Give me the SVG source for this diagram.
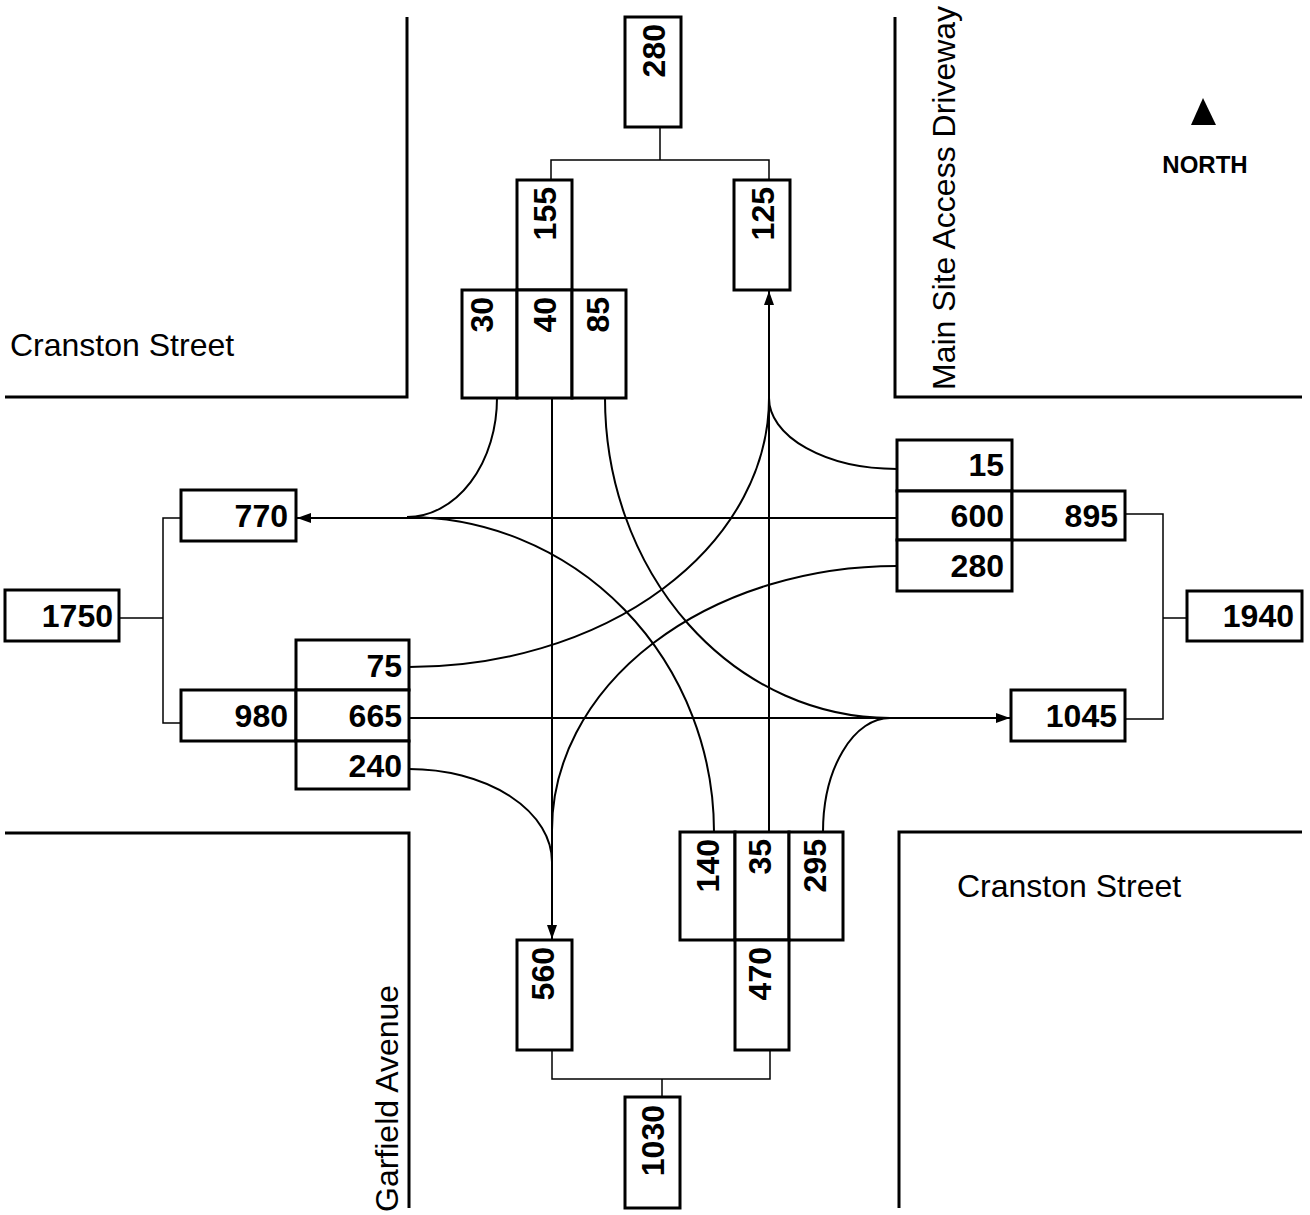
<svg xmlns="http://www.w3.org/2000/svg" width="1310" height="1215" viewBox="0 0 1310 1215">
<style>
.box{fill:#fff;stroke:#000;stroke-width:3}
.road{fill:none;stroke:#000;stroke-width:3}
.tree{fill:none;stroke:#000;stroke-width:1.5}
.mv{fill:none;stroke:#000;stroke-width:2}
.num{font-family:"Liberation Sans",Arial,sans-serif;font-weight:bold;font-size:32px;text-anchor:end;fill:#000}
.lbl{font-family:"Liberation Sans",Arial,sans-serif;font-size:32px;fill:#000}
</style>
<defs>
<marker id="arr" markerUnits="userSpaceOnUse" markerWidth="14" markerHeight="10" refX="14" refY="5" orient="auto">
<path d="M0,0 L14,5 L0,10 z" fill="#000"/>
</marker>
</defs>
<rect width="1310" height="1215" fill="#fff"/>
<g id="roads">
<path class="road" d="M407,17 V397 H5"/>
<path class="road" d="M895,17 V397 H1302"/>
<path class="road" d="M5,833 H409 V1208"/>
<path class="road" d="M1302,832 H899 V1208"/>
<text class="lbl" x="10" y="356">Cranston Street</text>
<text class="lbl" x="957" y="897">Cranston Street</text>
<text class="lbl" transform="translate(955,390) rotate(-90)">Main Site Access Driveway</text>
<text class="lbl" transform="translate(398,1212) rotate(-90)">Garfield Avenue</text>
</g>
<g id="north">
<path d="M1203,98 L1216,125 L1191,125 z" fill="#000"/>
<text x="1205" y="173" font-family="Liberation Sans,Arial,sans-serif" font-weight="bold" font-size="24" text-anchor="middle">NORTH</text>
</g>
<g id="connectors">
<path class="tree" d="M660,127 V160 M551,180 V160 H769 V180"/>
<path class="tree" d="M181,518 H163 V723 H181 M119,618 H163"/>
<path class="tree" d="M1125,514 H1163 V719 H1125 M1163,618 H1187"/>
<path class="tree" d="M552,1050 V1079 H770 V1050 M662,1079 V1097"/>
<path class="mv" d="M897,518 H297" marker-end="url(#arr)"/>
<path class="mv" d="M409,718 H1010" marker-end="url(#arr)"/>
<path class="mv" d="M552,398 V939" marker-end="url(#arr)"/>
<path class="mv" d="M769,832 V291" marker-end="url(#arr)"/>
<path class="mv" d="M497,398 A90,119 0 0 1 407,517"/>
<path class="mv" d="M714,832 A307,315 0 0 0 407,517"/>
<path class="mv" d="M605,398 A285,320 0 0 0 890,718"/>
<path class="mv" d="M897,469 A128,71 0 0 1 769,398"/>
<path class="mv" d="M409,667 A360,269 0 0 0 769,398"/>
<path class="mv" d="M897,566 A345,264 0 0 0 552,830"/>
<path class="mv" d="M409,769 A143,93 0 0 1 552,862"/>
<path class="mv" d="M823,832 A67,114 0 0 1 890,718"/>
</g>
<g id="n-t280"><rect class="box" x="625" y="17" width="56" height="110"/><text class="num" transform="translate(664.5,24) rotate(-90)">280</text></g>
<g id="n-t155"><rect class="box" x="517" y="180" width="55" height="110"/><text class="num" transform="translate(556,187) rotate(-90)">155</text></g>
<g id="n-t125"><rect class="box" x="734" y="180" width="56" height="110"/><text class="num" transform="translate(773.5,187) rotate(-90)">125</text></g>
<g id="n-t30"><rect class="box" x="462" y="290" width="55" height="108"/><text class="num" transform="translate(493,297) rotate(-90)">30</text></g>
<g id="n-t40"><rect class="box" x="517" y="290" width="55" height="108"/><text class="num" transform="translate(556,297) rotate(-90)">40</text></g>
<g id="n-t85"><rect class="box" x="572" y="290" width="54" height="108"/><text class="num" transform="translate(609,297) rotate(-90)">85</text></g>
<g id="n-b140"><rect class="box" x="680" y="832" width="55" height="108"/><text class="num" transform="translate(718.5,839) rotate(-90)">140</text></g>
<g id="n-b35"><rect class="box" x="735" y="832" width="54" height="108"/><text class="num" transform="translate(771,839) rotate(-90)">35</text></g>
<g id="n-b295"><rect class="box" x="789" y="832" width="54" height="108"/><text class="num" transform="translate(825.5,839) rotate(-90)">295</text></g>
<g id="n-b560"><rect class="box" x="517" y="940" width="55" height="110"/><text class="num" transform="translate(553.5,947) rotate(-90)">560</text></g>
<g id="n-b470"><rect class="box" x="735" y="940" width="54" height="110"/><text class="num" transform="translate(770.5,947) rotate(-90)">470</text></g>
<g id="n-b1030"><rect class="box" x="625" y="1097" width="55" height="111"/><text class="num" transform="translate(663.5,1105) rotate(-90)">1030</text></g>
<g id="n-l770"><rect class="box" x="181" y="490" width="115" height="51"/><text class="num" x="288" y="527">770</text></g>
<g id="n-l1750"><rect class="box" x="5" y="590" width="114" height="51"/><text class="num" x="113" y="627">1750</text></g>
<g id="n-l75"><rect class="box" x="296" y="640" width="113" height="50"/><text class="num" x="402" y="677">75</text></g>
<g id="n-l980"><rect class="box" x="181" y="690" width="115" height="51"/><text class="num" x="288" y="727">980</text></g>
<g id="n-l665"><rect class="box" x="296" y="690" width="113" height="51"/><text class="num" x="402" y="727">665</text></g>
<g id="n-l240"><rect class="box" x="296" y="741" width="113" height="48"/><text class="num" x="402" y="777">240</text></g>
<g id="n-r15"><rect class="box" x="897" y="440" width="115" height="51"/><text class="num" x="1004" y="476">15</text></g>
<g id="n-r600"><rect class="box" x="897" y="491" width="115" height="49"/><text class="num" x="1004" y="527">600</text></g>
<g id="n-r895"><rect class="box" x="1012" y="491" width="113" height="49"/><text class="num" x="1118" y="527">895</text></g>
<g id="n-r280"><rect class="box" x="897" y="540" width="115" height="51"/><text class="num" x="1004" y="577">280</text></g>
<g id="n-r1940"><rect class="box" x="1187" y="591" width="115" height="50"/><text class="num" x="1294" y="627">1940</text></g>
<g id="n-r1045"><rect class="box" x="1011" y="690" width="114" height="51"/><text class="num" x="1117" y="727">1045</text></g>
</svg>
